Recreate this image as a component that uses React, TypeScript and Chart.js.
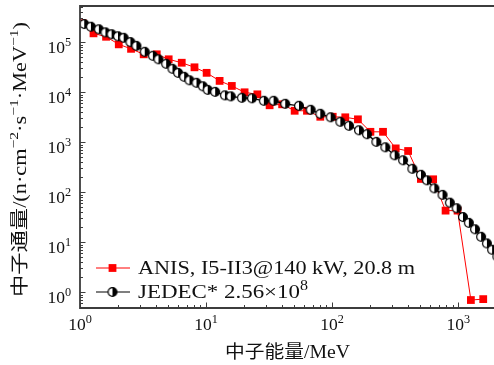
import React, { useEffect, useRef } from 'react';
import { Chart, registerables } from 'chart.js';

Chart.register(...registerables);

// ---------- data ----------
const anisEnergy = [1.05, 1.28, 1.61, 2.03, 2.54, 3.2, 4.06, 5.05, 6.41, 8.09, 10.1, 12.8, 16.0, 20.2, 25.5, 31.9, 40.1, 50.4, 63.1, 80.5, 101, 127, 160, 201, 253, 319, 400, 505, 632, 793, 987, 1259, 1577];
const anisFlux = [240000, 151000, 129000, 91000, 74000, 57500, 57500, 45700, 39000, 31600, 24500, 16900, 13400, 10000, 9100, 5500, 5750, 4270, 4270, 3240, 3240, 3160, 2880, 1620, 1620, 755, 670, 185, 182, 43, 43, 0.7, 0.73];

const jedecEnergy = [1.08, 1.22, 1.41, 1.59, 1.78, 2.0, 2.22, 2.51, 2.8, 3.26, 3.78, 4.19, 4.82, 5.41, 6.0, 6.7, 7.38, 8.39, 9.42, 10.3, 11.8, 14.1, 15.7, 19.2, 23.1, 28.7, 34.3, 42.4, 54.5, 67.5, 80.5, 97.3, 116, 136, 163, 189, 224, 264, 313, 365, 432, 506, 564, 646, 750, 857, 971, 1089, 1213, 1358, 1517, 1687, 1854, 2040];
const jedecFlux = [232000, 205000, 182000, 158000, 145000, 132000, 123000, 101000, 85000, 64600, 53700, 45700, 37200, 29500, 24500, 20400, 17400, 15500, 13200, 11200, 10200, 8700, 8300, 7760, 7590, 6760, 6760, 5890, 5370, 4470, 3720, 3160, 2570, 2140, 1740, 1450, 1020, 794, 550, 437, 295, 224, 174, 120, 89, 62, 48, 32, 24.5, 18.2, 12.9, 9.5, 7.1, 5.2];

const xTickExponents = ['0', '1', '2', '3'];
const yTickExponents = ['0', '1', '2', '3', '4', '5'];
const tickBase = '10';

const anisLabel = 'ANIS, I5-II3@140 kW, 20.8 m';
const jedecLabel = 'JEDEC* 2.56×10';
const jedecLabelSup = '8';
const xTitle = '中子能量/MeV';
const yTitleParts: { t: string; sup?: boolean }[] = [
  { t: '中子通量/(n·cm' },
  { t: '−2', sup: true },
  { t: '·s' },
  { t: '−1', sup: true },
  { t: '·MeV' },
  { t: '−1', sup: true },
  { t: ')' },
];

const X_MIN = 1;
const X_MAX = 1920;
const Y_MIN = 0.485;
const Y_MAX = 532000;

// ---------- style ----------
const FONT = '"Liberation Serif", "Noto Sans CJK SC", serif';
const AXIS = '#3c3c3c';
const RED = '#ff0000';

function makeHalfCircle(r: number) {
  const size = Math.ceil(2 * r + 3);
  const c = document.createElement('canvas');
  c.width = size;
  c.height = size;
  const g = c.getContext('2d')!;
  const cx = size / 2, cy = size / 2;
  g.beginPath();
  g.arc(cx, cy, r, 0, Math.PI * 2);
  g.fillStyle = '#ffffff';
  g.fill();
  g.beginPath();
  g.moveTo(cx, cy - r);
  g.arc(cx, cy, r, -Math.PI / 2, Math.PI / 2);
  g.closePath();
  g.fillStyle = '#000000';
  g.fill();
  g.beginPath();
  g.arc(cx, cy, r, 0, Math.PI * 2);
  g.lineWidth = 1.2;
  g.strokeStyle = '#000000';
  g.stroke();
  return c;
}

// draws text parts (with superscripts); optional target width stretches horizontally
function drawRich(
  ctx: CanvasRenderingContext2D,
  parts: { t: string; sup?: boolean }[],
  x: number,
  y: number,
  size: number,
  align: 'left' | 'center' | 'right',
  targetWidth?: number
) {
  const supSize = size * 0.7;
  const widths = parts.map((p) => {
    ctx.font = `${p.sup ? supSize : size}px ${FONT}`;
    return ctx.measureText(p.t).width;
  });
  const total = widths.reduce((a, b) => a + b, 0);
  const sx = targetWidth ? targetWidth / total : 1;
  const w = total * sx;
  const startX = align === 'left' ? x : align === 'center' ? x - w / 2 : x - w;
  ctx.save();
  ctx.translate(startX, y);
  ctx.scale(sx, 1);
  ctx.textAlign = 'left';
  ctx.textBaseline = 'alphabetic';
  let cx = 0;
  parts.forEach((p, i) => {
    ctx.font = `${p.sup ? supSize : size}px ${FONT}`;
    ctx.fillText(p.t, cx, p.sup ? -size * 0.42 : 0);
    cx += widths[i];
  });
  ctx.restore();
  return w;
}

const decorPlugin = {
  id: 'decor',
  afterDraw(chart: any) {
    const ctx: CanvasRenderingContext2D = chart.ctx;
    const { left, right, top, bottom } = chart.chartArea;
    const xs = chart.scales.x;
    const ys = chart.scales.y;
    ctx.save();
    ctx.strokeStyle = AXIS;
    ctx.lineWidth = 1;
    // y ticks (inward)
    for (let d = -1; d <= 6; d++) {
      for (let m = 1; m <= 9; m++) {
        const v = m * Math.pow(10, d);
        if (v < Y_MIN || v > Y_MAX) continue;
        const py = Math.round(ys.getPixelForValue(v)) + 0.5;
        const len = m === 1 ? 5.5 : 3;
        ctx.beginPath();
        ctx.moveTo(left, py);
        ctx.lineTo(left + len, py);
        ctx.stroke();
      }
    }
    // x ticks (inward)
    for (let d = 0; d <= 4; d++) {
      for (let m = 1; m <= 9; m++) {
        const v = m * Math.pow(10, d);
        if (v < X_MIN || v > X_MAX) continue;
        const px = Math.round(xs.getPixelForValue(v)) + 0.5;
        const len = m === 1 ? 5.5 : 3;
        ctx.beginPath();
        ctx.moveTo(px, bottom);
        ctx.lineTo(px, bottom - len);
        ctx.stroke();
      }
    }
    // frame
    ctx.lineWidth = 1.8;
    ctx.beginPath();
    ctx.moveTo(right + 2, top);
    ctx.lineTo(left, top);
    ctx.lineTo(left, bottom);
    ctx.lineTo(right + 2, bottom);
    ctx.stroke();

    // tick labels
    ctx.fillStyle = '#111111';
    const tsz = 17.5;
    xTickExponents.forEach((e) => {
      const v = Math.pow(10, Number(e));
      const px = xs.getPixelForValue(v);
      drawRich(ctx, [{ t: tickBase }, { t: e, sup: true }], px, 330, tsz, 'center');
    });
    yTickExponents.forEach((e) => {
      const v = Math.pow(10, Number(e));
      const py = ys.getPixelForValue(v);
      drawRich(ctx, [{ t: tickBase }, { t: e, sup: true }], 71, py + 11, tsz, 'right');
    });

    // axis titles
    ctx.fillStyle = '#111111';
    drawRich(ctx, [{ t: xTitle }], 287.5, 358, 18, 'center', 125);
    ctx.save();
    ctx.translate(26, 159.5);
    ctx.rotate(-Math.PI / 2);
    drawRich(ctx, yTitleParts, 0, 0, 18, 'center', 275);
    ctx.restore();

    // legend
    const lx0 = 96, lx1 = 130, mx = 112.5;
    const ry = 268, by = 292;
    ctx.strokeStyle = RED;
    ctx.lineWidth = 1;
    ctx.beginPath();
    ctx.moveTo(lx0, ry);
    ctx.lineTo(lx1, ry);
    ctx.stroke();
    ctx.fillStyle = RED;
    ctx.fillRect(mx - 3.9, ry - 3.9, 7.8, 7.8);
    ctx.strokeStyle = '#000000';
    ctx.lineWidth = 1.2;
    ctx.beginPath();
    ctx.moveTo(lx0, by);
    ctx.lineTo(lx1, by);
    ctx.stroke();
    const img = (chart as any)._halfCircle as HTMLCanvasElement;
    if (img) ctx.drawImage(img, mx - img.width / 2, by - img.height / 2);
    ctx.fillStyle = '#111111';
    drawRich(ctx, [{ t: anisLabel }], 138, 274, 19.5, 'left', 277);
    drawRich(ctx, [{ t: jedecLabel }, { t: jedecLabelSup, sup: true }], 138, 298, 19.5, 'left', 170);
    ctx.restore();
  },
};

export default function App() {
  const ref = useRef<HTMLCanvasElement>(null);
  useEffect(() => {
    const canvas = ref.current!;
    const half = makeHalfCircle(4.4);
    const chart = new Chart(canvas, {
      type: 'line',
      data: {
        datasets: [
          {
            label: anisLabel,
            data: anisEnergy.map((e, i) => ({ x: e, y: anisFlux[i] })),
            borderColor: RED,
            backgroundColor: RED,
            borderWidth: 1,
            pointStyle: 'rect',
            pointRadius: 5.5,
            pointBorderWidth: 0,
            pointBackgroundColor: RED,
            tension: 0,
            order: 1,
          },
          {
            label: jedecLabel + jedecLabelSup,
            data: jedecEnergy.map((e, i) => ({ x: e, y: jedecFlux[i] })),
            borderColor: '#000000',
            backgroundColor: '#000000',
            borderWidth: 1.3,
            pointStyle: half as any,
            pointRadius: 4.4,
            tension: 0,
            order: 0,
          },
        ],
      },
      options: {
        animation: false,
        responsive: false,
        devicePixelRatio: 1,
        layout: { autoPadding: false, padding: { top: 6, left: 0, right: 0, bottom: 0 } },
        plugins: { legend: { display: false }, tooltip: { enabled: false } },
        scales: {
          x: {
            type: 'logarithmic',
            min: X_MIN,
            max: X_MAX,
            grid: { display: false },
            border: { display: false },
            ticks: { display: false },
            afterFit: (s: any) => {
              s.height = 57;
            },
          },
          y: {
            type: 'logarithmic',
            min: Y_MIN,
            max: Y_MAX,
            grid: { display: false },
            border: { display: false },
            ticks: { display: false },
            afterFit: (s: any) => {
              s.width = 80;
            },
          },
        },
      },
      plugins: [decorPlugin],
    });
    (chart as any)._halfCircle = half;
    chart.draw();
    return () => chart.destroy();
  }, []);
  return (
    <div style={{ position: 'absolute', left: 0, top: 0, width: 494, height: 365, background: '#fff' }}>
      <canvas ref={ref} width={494} height={365} style={{ display: 'block', width: 494, height: 365 }} />
    </div>
  );
}
